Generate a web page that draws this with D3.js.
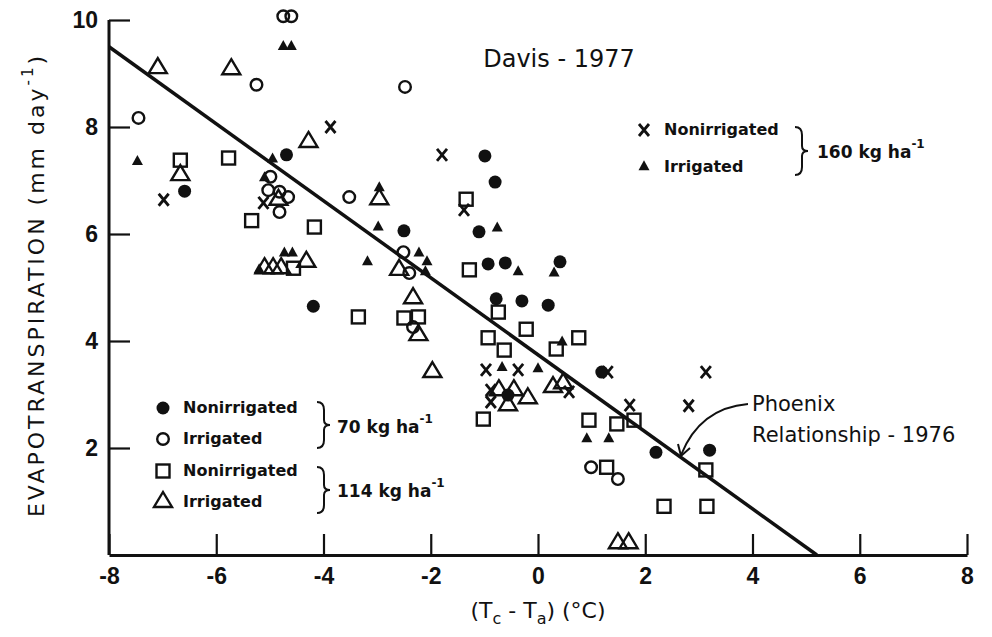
<!DOCTYPE html>
<html>
<head>
<meta charset="utf-8">
<script src="https://cdn.jsdelivr.net/npm/d3@7"></script>
<style>
  body { margin: 0; background: #fff; }
  svg { display: block; font-family: "DejaVu Sans", sans-serif; }
</style>
</head>
<body>
<div id="chart"></div>
<script>
// ---- data: [Tc - Ta (°C), ET (mm/day)] ----
const nonirr70 = [[-6.59,6.80],[-4.69,7.48],[-4.19,4.65],[-2.50,6.06],[-1.10,6.04],[-0.99,7.46],
  [-0.80,6.97],[-0.93,5.44],[-0.61,5.46],[0.41,5.48],[-0.78,4.79],[-0.30,4.75],[0.19,4.67],
  [1.19,3.42],[-0.56,2.99],[2.20,1.92],[3.20,1.96]];
const irr70 = [[-4.75,10.07],[-4.60,10.07],[-5.25,8.79],[-7.45,8.17],[-2.48,8.75],[-3.52,6.69],
  [-4.99,7.07],[-5.03,6.82],[-4.82,6.79],[-4.66,6.69],[-4.82,6.41],[-2.51,5.66],[-2.40,5.27],
  [-2.33,4.26],[0.99,1.64],[1.49,1.42]];
const nonirr114 = [[-6.67,7.38],[-5.77,7.42],[-5.34,6.25],[-4.17,6.13],[-4.56,5.36],[-3.35,4.45],
  [-2.50,4.43],[-2.23,4.45],[-1.34,6.65],[-1.28,5.33],[-0.74,4.54],[-0.22,4.22],[-0.93,4.06],
  [-0.63,3.83],[0.76,4.06],[0.34,3.85],[-1.02,2.54],[0.95,2.52],[1.47,2.45],[1.79,2.52],
  [1.28,1.64],[2.35,0.91],[3.15,0.91],[3.13,1.59]];
const irr114 = [[-7.09,9.10],[-5.72,9.08],[-4.28,7.72],[-6.67,7.10],[-2.96,6.65],[-4.84,6.64],
  [-5.10,5.36],[-4.94,5.36],[-4.79,5.36],[-4.32,5.48],[-2.59,5.33],[-2.33,4.80],[-2.23,4.11],
  [-1.97,3.42],[-0.73,3.08],[-0.45,3.08],[-0.56,2.80],[-0.19,2.93],[0.28,3.14],[0.47,3.21],
  [1.49,0.22],[1.69,0.22]];
const nonirr160 = [[-3.87,8.00],[-6.98,6.64],[-5.12,6.58],[-1.79,7.48],[-1.38,6.45],[-0.97,3.46],
  [-0.37,3.46],[1.30,3.42],[-0.88,3.08],[-0.88,2.86],[0.58,3.05],[1.71,2.80],[2.81,2.79],[3.13,3.42]];
const irr160 = [[-4.75,9.50],[-4.60,9.50],[-7.47,7.35],[-4.95,7.40],[-5.10,7.05],[-2.96,6.86],
  [-2.98,6.13],[-0.76,6.11],[-4.73,5.64],[-4.58,5.64],[-5.20,5.33],[-3.18,5.48],[-2.22,5.64],
  [-2.07,5.48],[-2.10,5.29],[-0.37,5.29],[0.30,5.27],[0.45,3.98],[-0.67,3.50],[0.00,3.48],
  [0.91,2.17],[1.32,2.17]];

// Phoenix relationship - 1976 (straight line)
const phoenixLine = [[-8, 9.5], [5.2, 0]];

const xTicks = [-8, -6, -4, -2, 0, 2, 4, 6, 8];
const yTicks = [2, 4, 6, 8, 10];

const width = 992, height = 637;
const ink = "#111";

const svg = d3.select("#chart").append("svg")
    .attr("width", width)
    .attr("height", height);

const x = d3.scaleLinear().domain([-8, 8]).range([109, 967]);
const y = d3.scaleLinear().domain([0, 10]).range([555, 20]);

// x axis, ticks point inward (up)
const xAxis = svg.append("g")
    .attr("transform", "translate(0," + y(0) + ")")
    .call(d3.axisBottom(x).tickValues(xTicks).tickSize(-21).tickSizeOuter(0).tickPadding(13)
      .tickFormat(function(d) { return d < 0 ? "-" + Math.abs(d) : d; }));
xAxis.select(".domain").attr("stroke", ink).attr("stroke-width", 3);
xAxis.selectAll(".tick line").attr("stroke", ink).attr("stroke-width", 2.2);
xAxis.selectAll(".tick text")
    .attr("fill", ink)
    .style("font-size", "23px")
    .style("font-weight", "bold");

// y axis, ticks point inward (right)
const yAxis = svg.append("g")
    .attr("transform", "translate(" + x(-8) + ",0)")
    .call(d3.axisLeft(y).tickValues(yTicks).tickSize(-21).tickSizeOuter(0).tickPadding(11));
yAxis.select(".domain").attr("stroke", ink).attr("stroke-width", 3)
    .attr("d", "M0," + y(10) + "V" + y(0));
yAxis.selectAll(".tick line").attr("stroke", ink).attr("stroke-width", 2.2);
yAxis.selectAll(".tick text")
    .attr("fill", ink)
    .style("font-size", "23px")
    .style("font-weight", "bold");

// axis titles
svg.append("text")
    .attr("transform", "translate(38," + 285 + ") rotate(-90)")
    .attr("text-anchor", "middle")
    .attr("dominant-baseline", "middle")
    .attr("fill", ink)
    .style("font-size", "22px")
    .style("letter-spacing", "3px")
    .html('EVAPOTRANSPIRATION (mm day<tspan dy="-10" style="font-size:15px">-1</tspan><tspan dy="10">)</tspan>');

svg.append("text")
    .attr("x", 538).attr("y", 618)
    .attr("text-anchor", "middle")
    .attr("fill", ink)
    .style("font-size", "22px")
    .html('(T<tspan dy="6" style="font-size:16px">c</tspan><tspan dy="-6"> - T</tspan><tspan dy="6" style="font-size:16px">a</tspan><tspan dy="-6">) (°C)</tspan>');

// Phoenix line
svg.append("path")
    .datum(phoenixLine)
    .attr("d", d3.line().x(function(d) { return x(d[0]); }).y(function(d) { return y(d[1]); }))
    .attr("stroke", ink)
    .attr("stroke-width", 3.5)
    .attr("fill", "none");

// marker drawing helpers
const sw = 2.4;
function triPath(w, h) {
  return "M0," + (-h * 2 / 3) + "L" + (w / 2) + "," + (h / 3) + "L" + (-w / 2) + "," + (h / 3) + "Z";
}
function drawMarker(g, kind) {
  if (kind === "fcircle") {
    g.append("circle").attr("r", 6.5).attr("fill", ink);
  } else if (kind === "ocircle") {
    g.append("circle").attr("r", 5.8).attr("fill", "none").attr("stroke", ink).attr("stroke-width", sw);
  } else if (kind === "square") {
    g.append("rect").attr("x", -6.5).attr("y", -6.5).attr("width", 13).attr("height", 13)
      .attr("fill", "none").attr("stroke", ink).attr("stroke-width", sw);
  } else if (kind === "otri") {
    g.append("path").attr("d", triPath(18, 15)).attr("fill", "none")
      .attr("stroke", ink).attr("stroke-width", sw).attr("stroke-linejoin", "miter");
  } else if (kind === "ftri") {
    g.append("path").attr("d", triPath(11, 10)).attr("fill", ink);
  } else if (kind === "cross") {
    g.append("path").attr("d", "M-5,-6L5,6M5,-6L-5,6")
      .attr("stroke", ink).attr("stroke-width", 2.8).attr("fill", "none");
  }
}

const series = [
  { data: irr70, kind: "ocircle" },
  { data: nonirr114, kind: "square" },
  { data: irr114, kind: "otri" },
  { data: nonirr160, kind: "cross" },
  { data: nonirr70, kind: "fcircle" },
  { data: irr160, kind: "ftri" }
];

series.forEach(function(s) {
  svg.append("g").selectAll("g")
    .data(s.data)
    .enter().append("g")
      .attr("transform", function(d) { return "translate(" + x(d[0]) + "," + y(d[1]) + ")"; })
      .each(function() { drawMarker(d3.select(this), s.kind); });
});

// title
svg.append("text")
    .attr("x", 559).attr("y", 67)
    .attr("text-anchor", "middle")
    .attr("fill", ink)
    .style("font-size", "24px")
    .text("Davis - 1977");

// legend helpers
function legendRow(cx, cy, kind, label) {
  const g = svg.append("g").attr("transform", "translate(" + cx + "," + cy + ")");
  drawMarker(g, kind);
  svg.append("text")
    .attr("x", cx + 20).attr("y", cy)
    .attr("dominant-baseline", "middle")
    .attr("fill", ink)
    .style("font-size", "16px")
    .style("font-weight", "bold")
    .text(label);
}
function brace(bx, y1, y2) {
  const ym = (y1 + y2) / 2;
  const d = "M" + bx + "," + y1 +
    "Q" + (bx + 7) + "," + y1 + " " + (bx + 7) + "," + (y1 + 8) +
    "L" + (bx + 7) + "," + (ym - 5) +
    "Q" + (bx + 7) + "," + ym + " " + (bx + 13) + "," + ym +
    "Q" + (bx + 7) + "," + ym + " " + (bx + 7) + "," + (ym + 5) +
    "L" + (bx + 7) + "," + (y2 - 8) +
    "Q" + (bx + 7) + "," + y2 + " " + bx + "," + y2;
  svg.append("path").attr("d", d).attr("fill", "none").attr("stroke", ink).attr("stroke-width", 2);
}
function rateLabel(lx, ly, txt) {
  svg.append("text")
    .attr("x", lx).attr("y", ly)
    .attr("dominant-baseline", "middle")
    .attr("fill", ink)
    .style("font-size", "17px")
    .style("font-weight", "bold")
    .html(txt + ' kg ha<tspan dy="-9" style="font-size:12px">-1</tspan>');
}

// top-right legend (160 kg/ha)
legendRow(644, 130, "cross", "Nonirrigated");
legendRow(644, 167, "ftri", "Irrigated");
brace(795, 127, 175);
rateLabel(817, 153, "160");

// bottom-left legend (70 and 114 kg/ha)
legendRow(163, 408, "fcircle", "Nonirrigated");
legendRow(163, 439, "ocircle", "Irrigated");
legendRow(163, 471, "square", "Nonirrigated");
legendRow(163, 502, "otri", "Irrigated");
brace(317, 402, 448);
rateLabel(337, 428, "70");
brace(317, 467, 513);
rateLabel(337, 492, "114");

// Phoenix annotation
svg.append("text")
    .attr("x", 752).attr("y", 411)
    .attr("fill", ink)
    .style("font-size", "21px")
    .text("Phoenix");
svg.append("text")
    .attr("x", 752).attr("y", 442)
    .attr("fill", ink)
    .style("font-size", "21px")
    .text("Relationship - 1976");

svg.append("path")
    .attr("d", "M748,404 Q700,408 681,455")
    .attr("fill", "none").attr("stroke", ink).attr("stroke-width", 2);
svg.append("path")
    .attr("d", "M678,444 L681,456 L690,448")
    .attr("fill", "none").attr("stroke", ink).attr("stroke-width", 2);
</script>
</body>
</html>
